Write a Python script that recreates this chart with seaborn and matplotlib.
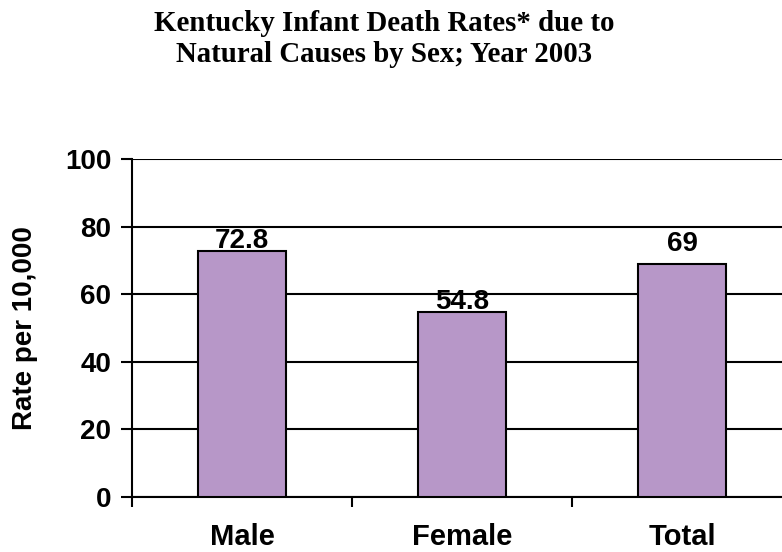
import matplotlib
matplotlib.use("Agg")
import matplotlib.pyplot as plt
import pandas as pd
import seaborn as sns

categories = ["Male", "Female", "Total"]
rates = [72.8, 54.8, 69]
value_labels = ["72.8", "54.8", "69"]
y_ticks = [0, 20, 40, 60, 80, 100]

df = pd.DataFrame({"sex": categories, "rate": rates})

sns.set_theme(style="white")
plt.rcParams["font.family"] = ["Liberation Sans", "DejaVu Sans"]
plt.rcParams.update({"text.color": "black", "axes.labelcolor": "black",
                     "xtick.color": "black", "ytick.color": "black"})

fig = plt.figure(figsize=(7.82, 5.52), dpi=100)
ax = fig.add_axes([132 / 782, 55 / 552, 660 / 782, 338 / 552])

sns.barplot(data=df, x="sex", y="rate", color="#B797C8", width=0.4,
            edgecolor="black", linewidth=1.5, saturation=1, ax=ax, zorder=3)

ax.set_xlim(-0.5, 2.5)
ax.set_ylim(0, 100)
ax.set_yticks(y_ticks)
ax.set_yticklabels([str(t) for t in y_ticks], fontsize=20, fontweight="bold")
ax.grid(axis="y", color="black", linewidth=1.5, zorder=0)
ax.set_axisbelow(True)

# category ticks sit at boundaries between bars
ax.set_xticks([0, 1, 2])
ax.set_xticklabels(categories, fontsize=21, fontweight="bold")
ax.tick_params(axis="x", length=0, pad=19)
ax.set_xticks([-0.5, 0.5, 1.5, 2.5], minor=True)
ax.tick_params(axis="x", which="minor", length=7, width=1.5, direction="out", color="black", bottom=True)
ax.tick_params(axis="y", length=8, width=1.5, direction="out", color="black", left=True, pad=7)

for side in ["top", "right"]:
    ax.spines[side].set_visible(False)
for side in ["left", "bottom"]:
    ax.spines[side].set_color("black")
    ax.spines[side].set_linewidth(1.5)

ax.set_xlabel("")
ax.set_ylabel("Rate per 10,000", fontsize=20, fontweight="bold", labelpad=19)

offsets = [-2, -2, 5]
for bar, lab, off in zip(ax.patches, value_labels, offsets):
    ax.annotate(lab, (bar.get_x() + bar.get_width() / 2, bar.get_height()),
                xytext=(0, off), textcoords="offset points", ha="center", va="bottom",
                fontsize=20, fontweight="bold", zorder=5)

fig.text(384 / 782, 1 - 10 / 552, "Kentucky Infant Death Rates* due to\nNatural Causes by Sex; Year 2003",
         ha="center", va="top", fontsize=20.8, fontweight="bold",
         family=["Liberation Serif", "DejaVu Serif"], linespacing=1.2)

fig.savefig("out.png", dpi=100)
